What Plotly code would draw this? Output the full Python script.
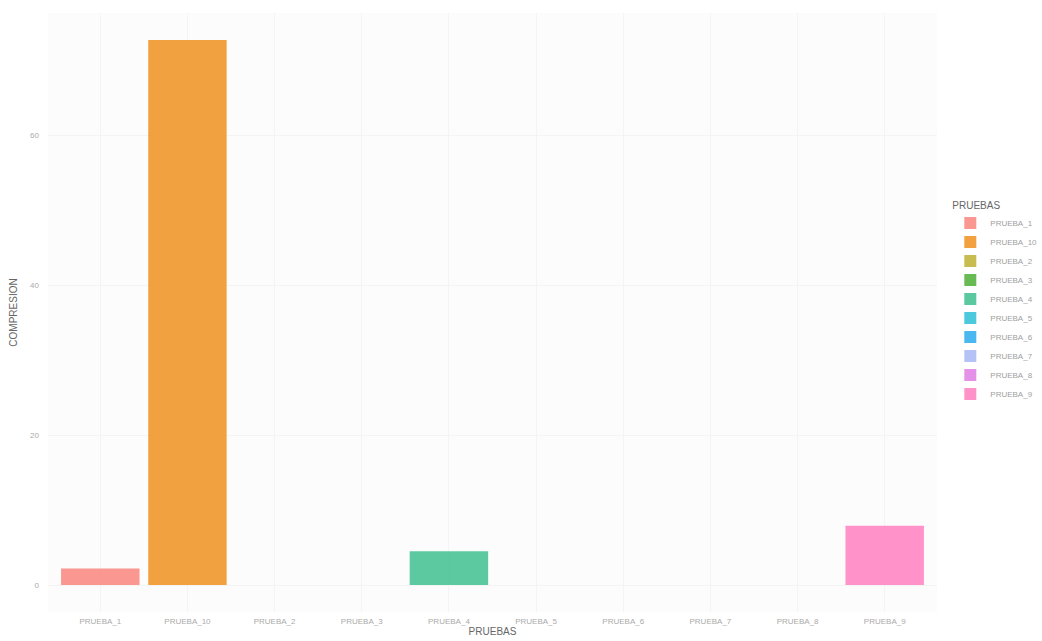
import plotly.graph_objects as go

categories = ["PRUEBA_1", "PRUEBA_10", "PRUEBA_2", "PRUEBA_3", "PRUEBA_4",
              "PRUEBA_5", "PRUEBA_6", "PRUEBA_7", "PRUEBA_8", "PRUEBA_9"]
compresion = [2.2, 72.7, 0, 0, 4.5, 0, 0, 0, 0, 7.9]
colors = ["#F8857D", "#F0901F", "#BFB133", "#4DB035", "#3FC08F",
          "#2EC0D8", "#2AACEE", "#A7B8F5", "#E07FE5", "#FF80BF"]
y_ticks = [0, 20, 40, 60]

fig = go.Figure()
for cat, val, col in zip(categories, compresion, colors):
    fig.add_trace(go.Bar(
        x=[cat], y=[val], name=cat, marker_color=col, opacity=0.85,
        marker_line_width=0, width=0.9,
    ))

fig.update_layout(
    width=1042, height=641,
    margin=dict(l=48, r=105, t=13, b=29, autoexpand=False),
    paper_bgcolor="#ffffff", plot_bgcolor="#fcfcfc",
    font=dict(family="Liberation Sans, Arial, sans-serif", color="#9a9a9a", size=9),
    barmode="overlay",
    showlegend=True,
    legend=dict(
        title=dict(text="PRUEBAS", font=dict(size=10, color="#666666")),
        xref="container", yref="container",
        x=0.912, xanchor="left", y=0.695, yanchor="top",
        font=dict(size=8, color="#a0a0a0"),
        tracegroupgap=2, itemwidth=30,
    ),
    xaxis=dict(
        categoryorder="array", categoryarray=categories,
        range=[-0.6, 9.6], showgrid=True, gridcolor="#f4f4f4",
        zeroline=False, ticks="", automargin=False,
        title=dict(text="PRUEBAS", font=dict(size=10, color="#666666"), standoff=2),
        tickfont=dict(size=8, color="#aaaaaa"),
        ticklabelstandoff=3,
    ),
    yaxis=dict(
        range=[-3.6, 76.3], tickvals=y_ticks, showgrid=True, gridcolor="#f4f4f4",
        zeroline=False, ticks="", automargin=False,
        title=dict(text="COMPRESION", font=dict(size=10, color="#666666"), standoff=10),
        tickfont=dict(size=8, color="#aaaaaa"),
        ticklabelstandoff=8,
    ),
)

fig.write_html("out.html")
